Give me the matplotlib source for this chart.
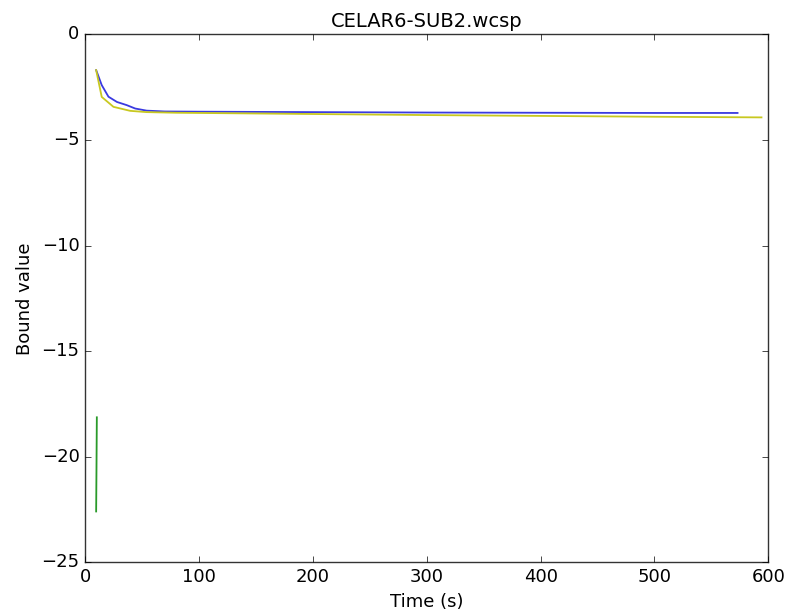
import matplotlib
matplotlib.use("Agg")
import matplotlib.pyplot as plt

# Bound value over time for three solver runs
blue_t = [9.7, 14.6, 20.5, 28.0, 36.6, 44.0, 54.0, 70.0, 100.0, 200.0, 300.0, 400.0, 500.0, 573.0]
blue_v = [-1.69, -2.40, -2.95, -3.20, -3.35, -3.51, -3.61, -3.65, -3.66, -3.68, -3.70, -3.71, -3.72, -3.72]

yellow_t = [9.7, 14.6, 24.9, 39.6, 54.0, 80.0, 100.0, 200.0, 300.0, 400.0, 500.0, 594.0]
yellow_v = [-1.69, -2.96, -3.43, -3.62, -3.68, -3.71, -3.72, -3.77, -3.82, -3.86, -3.90, -3.93]

green_t = [10.3, 10.0, 9.7]
green_v = [-18.14, -20.5, -22.6]

plt.style.use("classic")
plt.rcParams["font.size"] = 13
fig = plt.figure(figsize=(7.88, 6.15), dpi=100, facecolor="white")
ax = fig.add_axes([0.108, 0.086, 0.867, 0.858])

ax.plot(blue_t, blue_v, color="#3a3ae0", lw=1.3)
ax.plot(yellow_t, yellow_v, color="#c8c820", lw=1.3)
ax.plot(green_t, green_v, color="#2a9a2a", lw=1.3)

ax.set_xlim(0, 600)
ax.set_ylim(-25, 0)
ax.set_title("CELAR6-SUB2.wcsp", fontsize=14)
ax.set_xlabel("Time (s)")
ax.set_ylabel("Bound value")
for spine in ax.spines.values():
    spine.set_color("#333333")

fig.savefig("out.png", dpi=100, facecolor="white")
